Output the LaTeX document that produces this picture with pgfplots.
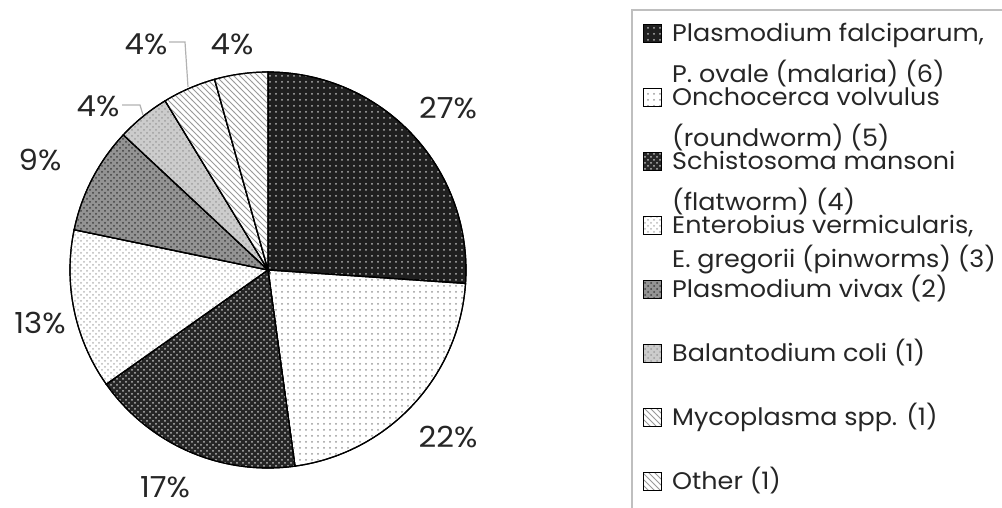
\documentclass[border=0pt]{standalone}
\usepackage{fontspec}
\setmainfont{Poppins}[FakeStretch=1.06]
\usepackage{pgfplots}
\pgfplotsset{compat=1.18}
\usetikzlibrary{patterns}
% counts: 6,5,4,3,2,1,1,1 (total 23); pie centre (268,270), radius 198 (px units)
\newcommand{\two}[3]{\smash{\makebox[0pt][l]{\raisebox{-#3}{#2}}}#1}
\newcommand{\slice}[3]{%
  \addplot[#3, draw=black, line width=0.6pt, samples=90, variable=\t,
    domain=90-360*#1/23:90-360*(#1+#2)/23]
    ({268+198*cos(\t)},{270-198*sin(\t)}) -- (axis cs:268,270) -- cycle;}
\begin{document}
\begin{tikzpicture}
\begin{axis}[name=ax, x=0.5pt, y=0.5pt, xmin=0, xmax=1002, ymin=0, ymax=508,
  y dir=reverse, hide axis, clip=false, no markers,
  legend cell align=left,
  legend image code/.code={\draw[#1, line width=0.4pt] (0pt,-4.5pt) rectangle (9pt,4.5pt);},
  legend style={at={(axis cs:643,23)}, anchor=north west, draw=none, fill=none,
    inner sep=0pt, row sep=22pt, column sep=5pt,
    nodes={inner sep=0pt, text height=9pt, text depth=1pt,
      font=\fontsize{12}{14}\selectfont, text=black!85}}]
\slice{0}{6}{fill=black!88, postaction={pattern=dots, pattern color=gray!60}}
\addlegendentry{\two{Plasmodium falciparum,}{P. ovale (malaria) (6)}{20.5pt}}
\slice{6}{5}{fill=white, postaction={pattern=dots, pattern color=gray!80}}
\addlegendentry{\two{Onchocerca volvulus}{(roundworm) (5)}{20.5pt}}
\slice{11}{4}{fill=black!85, postaction={pattern=crosshatch dots, pattern color=gray!55}}
\addlegendentry{\two{Schistosoma mansoni}{(flatworm) (4)}{20.5pt}}
\slice{15}{3}{fill=white, postaction={pattern=crosshatch dots, pattern color=gray!55}}
\addlegendentry{\two{Enterobius vermicularis,}{E. gregorii (pinworms) (3)}{17pt}}
\slice{18}{2}{fill=gray!85, postaction={pattern=crosshatch dots, pattern color=black!75}}
\addlegendentry{Plasmodium vivax (2)}
\slice{20}{1}{fill=gray!40, postaction={pattern=crosshatch dots, pattern color=gray!75}}
\addlegendentry{Balantodium coli (1)}
\slice{21}{1}{fill=white, postaction={pattern=north west lines, pattern color=gray!80}}
\addlegendentry{Mycoplasma spp. (1)}
\slice{22}{1}{fill=white, postaction={pattern=north west lines, pattern color=gray!80}}
\addlegendentry{Other (1)}
% leader lines
\draw[gray!60, line width=0.6pt] (axis cs:122,105) -- (axis cs:140,105) -- (axis cs:143,115);
\draw[gray!60, line width=0.6pt] (axis cs:169,42) -- (axis cs:185,42) -- (axis cs:188,87);
% percentage labels
\begin{scope}[every node/.style={font=\fontsize{14.5}{16}\selectfont, text=black!85}]
\node at (axis cs:448,108) {27\%};
\node at (axis cs:448,437) {22\%};
\node at (axis cs:165,487) {17\%};
\node at (axis cs:40,323) {13\%};
\node at (axis cs:40,160) {9\%};
\node at (axis cs:98,106) {4\%};
\node at (axis cs:146,44) {4\%};
\node at (axis cs:232,44) {4\%};
\end{scope}
% legend frame
\draw[gray!50, line width=1pt] (axis cs:632,10) rectangle (axis cs:1040,540);
\end{axis}
\pgfresetboundingbox
\useasboundingbox (ax.south west) rectangle (ax.north east);
\end{tikzpicture}
\end{document}
